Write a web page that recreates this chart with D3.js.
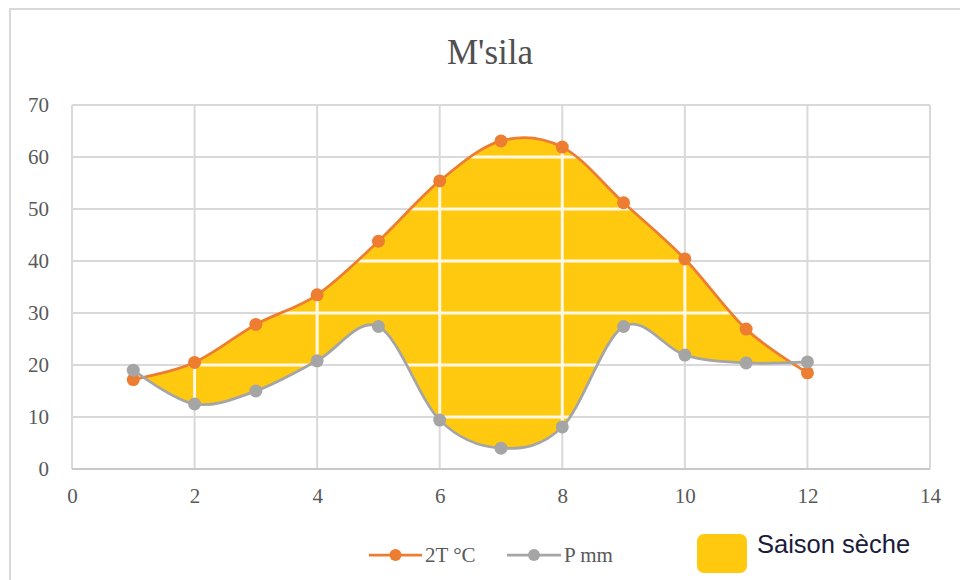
<!DOCTYPE html>
<html>
<head>
<meta charset="utf-8">
<script src="https://cdn.jsdelivr.net/npm/d3@7"></script>
<style>
  html, body { margin: 0; padding: 0; background: #fff; }
  svg { display: block; }
</style>
</head>
<body>
<svg id="chart" width="960" height="580"></svg>
<script>
// ---- data ----
const months = [1, 2, 3, 4, 5, 6, 7, 8, 9, 10, 11, 12];
const temp2T = [17.2, 20.5, 27.8, 33.5, 43.8, 55.4, 63.1, 61.9, 51.2, 40.4, 26.9, 18.5];
const precipP = [19.0, 12.5, 15.0, 20.8, 27.4, 9.4, 4.0, 8.1, 27.4, 21.9, 20.4, 20.6];
const xTicks = [0, 2, 4, 6, 8, 10, 12, 14];
const yTicks = [0, 10, 20, 30, 40, 50, 60, 70];
const title = "M'sila";
const seriesNames = ["2T °C", "P mm"];
const dryLabel = "Saison sèche";

(function () {
// ---- setup ----
const svg = d3.select("#chart");
const pL = 72, pR = 930, pT = 105, pB = 469;
const x = d3.scaleLinear().domain([0, 14]).range([pL, pR]);
const y = d3.scaleLinear().domain([0, 70]).range([pB, pT]);

const orange = "#ED7D31", gray = "#A5A5A5", yellow = "#FFC90F";
const gridColor = "#d9d9d9";
const serif = "'Liberation Serif', 'Times New Roman', serif";

// outer chart border
svg.append("rect").attr("x", 10).attr("y", 9).attr("width", 1000).attr("height", 620)
  .attr("fill", "#fff").attr("stroke", "#d9d9d9").attr("stroke-width", 2);

// title
svg.append("text").attr("x", 490).attr("y", 64).attr("text-anchor", "middle")
  .attr("font-family", serif).attr("font-size", 35).attr("fill", "#505050").text(title);

// grid (gray)
const grid = svg.append("g");
grid.selectAll("line.h").data(yTicks).join("line").attr("class", "h")
  .attr("x1", pL).attr("x2", pR).attr("y1", d => y(d)).attr("y2", d => y(d))
  .attr("stroke", gridColor).attr("stroke-width", 2);
grid.selectAll("line.v").data(xTicks).join("line").attr("class", "v")
  .attr("y1", pT).attr("y2", pB).attr("x1", d => x(d)).attr("x2", d => x(d))
  .attr("stroke", gridColor).attr("stroke-width", 2);

const pts = (vals) => months.map((m, i) => [m, vals[i]]);
const tPts = pts(temp2T), pPts = pts(precipP);
const curve = d3.curveCardinal.tension(0);

// clip paths: below temperature curve, above precipitation curve
const defs = svg.append("defs");
defs.append("clipPath").attr("id", "belowT").append("path")
  .attr("d", d3.area().curve(curve).x(d => x(d[0])).y0(pB).y1(d => y(d[1]))(tPts));
defs.append("clipPath").attr("id", "aboveP").append("path")
  .attr("d", d3.area().curve(curve).x(d => x(d[0])).y0(pT).y1(d => y(d[1]))(pPts));

const fillG = svg.append("g").attr("clip-path", "url(#belowT)")
  .append("g").attr("clip-path", "url(#aboveP)");
fillG.append("rect").attr("x", pL).attr("y", pT).attr("width", pR - pL).attr("height", pB - pT)
  .attr("fill", yellow);
fillG.selectAll("line.h").data(yTicks).join("line").attr("class", "h")
  .attr("x1", pL).attr("x2", pR).attr("y1", d => y(d)).attr("y2", d => y(d))
  .attr("stroke", "#fff8e6").attr("stroke-width", 3);
fillG.selectAll("line.v").data(xTicks).join("line").attr("class", "v")
  .attr("y1", pT).attr("y2", pB).attr("x1", d => x(d)).attr("x2", d => x(d))
  .attr("stroke", "#fff8e6").attr("stroke-width", 3);

// bottom axis line
svg.append("line").attr("x1", pL).attr("x2", pR).attr("y1", pB).attr("y2", pB)
  .attr("stroke", "#c8c8c8").attr("stroke-width", 2);

// axes labels
const xAxis = svg.append("g").attr("transform", `translate(0,${pB + 16})`)
  .call(d3.axisBottom(x).tickValues(xTicks).tickSize(0).tickFormat(d3.format("d")));
xAxis.select(".domain").remove();
xAxis.selectAll("text").attr("font-family", serif).attr("font-size", 21).attr("fill", "#595959");

const yAxis = svg.append("g").attr("transform", `translate(${pL - 20},0)`)
  .call(d3.axisLeft(y).tickValues(yTicks).tickSize(0).tickFormat(d3.format("d")));
yAxis.select(".domain").remove();
yAxis.selectAll("text").attr("font-family", serif).attr("font-size", 21).attr("fill", "#595959");

// series
const line = d3.line().curve(curve).x(d => x(d[0])).y(d => y(d[1]));
[[tPts, orange], [pPts, gray]].forEach(([p, c]) => {
  svg.append("path").attr("d", line(p)).attr("fill", "none").attr("stroke", c).attr("stroke-width", 2.75);
  svg.append("g").selectAll("circle").data(p).join("circle")
    .attr("cx", d => x(d[0])).attr("cy", d => y(d[1])).attr("r", 6.5).attr("fill", c);
});

// legend
const leg = [[orange, 369, 422, seriesNames[0]], [gray, 507, 561, seriesNames[1]]];
leg.forEach(([c, x1, x2, label]) => {
  svg.append("line").attr("x1", x1).attr("x2", x2).attr("y1", 555).attr("y2", 555)
    .attr("stroke", c).attr("stroke-width", 2.75);
  svg.append("circle").attr("cx", (x1 + x2) / 2).attr("cy", 555).attr("r", 6).attr("fill", c);
  svg.append("text").attr("x", x2 + 3).attr("y", 562).attr("font-family", serif)
    .attr("font-size", 21).attr("fill", "#595959").text(label);
});
svg.append("rect").attr("x", 697).attr("y", 534).attr("width", 50).attr("height", 39)
  .attr("rx", 7).attr("fill", yellow);
svg.append("text").attr("x", 757).attr("y", 553)
  .attr("font-family", "'Liberation Sans', Arial, sans-serif").attr("font-size", 25.5)
  .attr("fill", "#1b1b3a").text(dryLabel);
})();
</script>
</body>
</html>
